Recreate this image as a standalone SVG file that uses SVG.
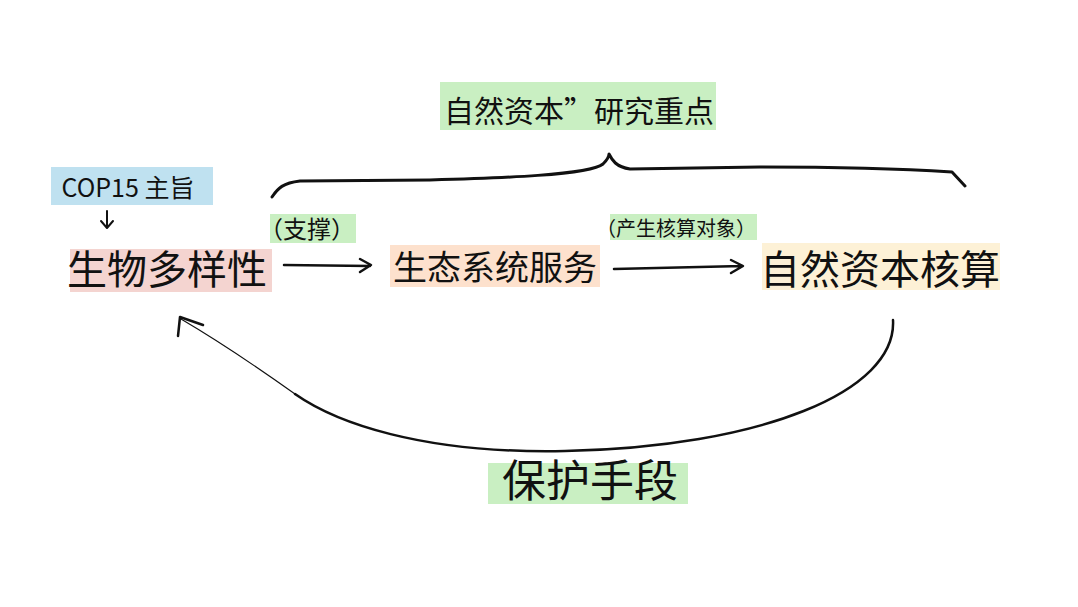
<svg xmlns="http://www.w3.org/2000/svg" width="1078" height="607" viewBox="0 0 1078 607">
  <style>
    .t { font-family: "Noto Sans CJK SC", "Noto Sans", sans-serif; fill: #111; text-anchor: middle; }
    .ln { fill: none; stroke: #111; stroke-linecap: round; stroke-linejoin: round; }
  </style>
  <rect width="1078" height="607" fill="#ffffff"/>
  <g id="node-cop15">
    <rect x="51" y="167" width="162" height="38" fill="#bfe1f0"/>
    <text class="t" x="128" y="197" font-size="25">COP15 主旨</text>
  </g>
  <g id="node-biodiversity">
    <rect x="70" y="249" width="202" height="43" fill="#f4d4d0"/>
    <text class="t" x="167" y="284" font-size="40">生物多样性</text>
  </g>
  <g id="label-support">
    <rect x="270" y="214" width="86" height="29" fill="#c9efc2"/>
    <text class="t" x="307" y="238" font-size="24">（支撑）</text>
  </g>
  <g id="node-ecoservice">
    <rect x="390" y="245" width="210" height="42" fill="#fde1cd"/>
    <text class="t" x="495" y="280" font-size="34">生态系统服务</text>
  </g>
  <g id="label-object">
    <rect x="610" y="214" width="147" height="26" fill="#c9efc2"/>
    <text class="t" x="676" y="236" font-size="20">（产生核算对象）</text>
  </g>
  <g id="node-accounting">
    <rect x="762" y="243" width="238" height="47" fill="#fdf1d6"/>
    <text class="t" x="880" y="284" font-size="40">自然资本核算</text>
  </g>
  <g id="label-focus">
    <rect x="440" y="82" width="276" height="48" fill="#c9efc2"/>
    <text class="t" x="579" y="122" font-size="30">自然资本”研究重点</text>
  </g>
  <g id="label-protect">
    <rect x="488" y="463" width="200" height="41" fill="#c9efc2"/>
    <text class="t" x="590" y="497" font-size="44">保护手段</text>
  </g>
  <g id="connectors">
    <path class="ln" stroke-width="2" d="M107 211 L107 227 M101 221 L107 228 L113 221"/>
    <path class="ln" stroke-width="2.5" d="M284 265 L370 266 M360 259 L371 265 L360 272"/>
    <path class="ln" stroke-width="2.5" d="M614 269 L742 266 M731 260 L743 266 L731 273"/>
    <path class="ln" stroke-width="3" d="M272 197 C278 188 283 183 300 181 L430 180 C500 178 590 175 603 164 C607 160 609 157 609 154 C612 160 616 167 630 169 L760 167 C850 167 920 170 952 172 L965 186"/>
    <path class="ln" stroke-width="2.5" d="M893 320 C897 392 760 447 565 451 C420 454 335 422 295 394"/>
    <path class="ln" stroke-width="1.2" d="M295 394 C250 362 210 336 181 319"/>
    <path class="ln" stroke-width="2.5" d="M203 325 L180 317 L178 336"/>
  </g>
</svg>
